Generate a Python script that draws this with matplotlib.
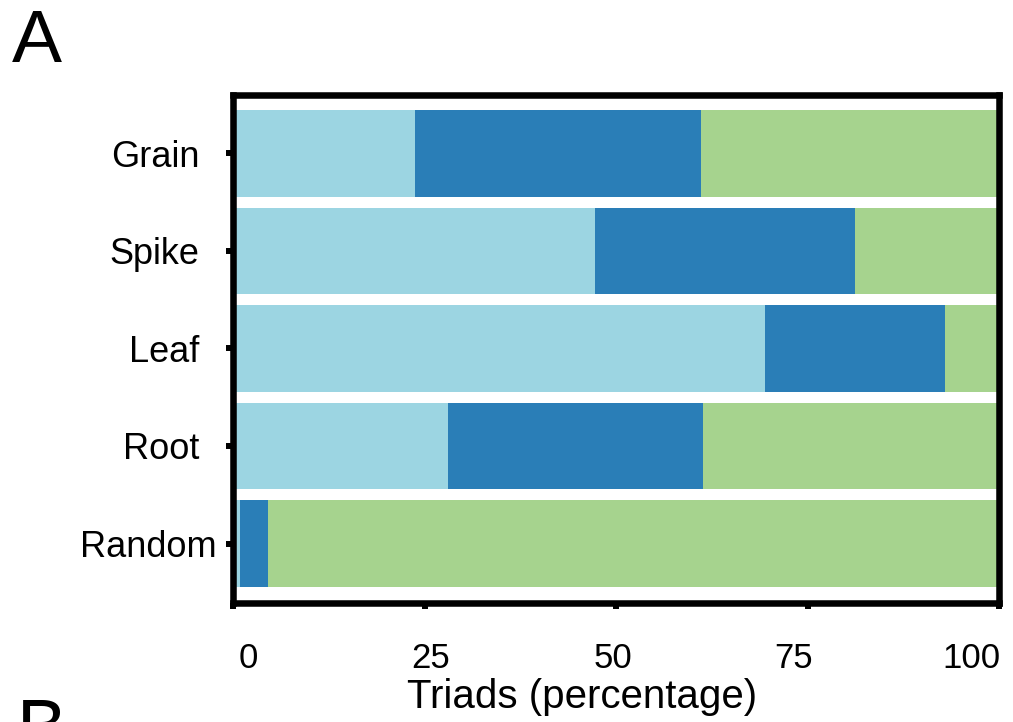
import numpy as np
import matplotlib
matplotlib.use("Agg")
import matplotlib.pyplot as plt
from matplotlib.transforms import ScaledTranslation

plt.rcParams['font.family'] = ['Liberation Sans', 'DejaVu Sans']

categories = ["Grain", "Spike", "Leaf", "Root", "Random"]
light_vals = [23.7, 47.3, 69.5, 28.0, 0.9]
dark_vals = [37.4, 33.9, 23.4, 33.4, 3.6]
green_vals = [38.9, 18.8, 7.1, 38.6, 95.5]
xticks = [0, 25, 50, 75, 100]
xtick_labels = ["0", "25", "50", "75", "100"]

colors = ["#9cd5e2", "#2a7eb7", "#a6d38e"]

fig = plt.figure(figsize=(10.13, 7.22), dpi=100)
ax = fig.add_axes([0.2303, 0.1655, 0.7559, 0.7026])

y = np.arange(len(categories))
left = np.zeros(len(categories))
for vals, c in zip([light_vals, dark_vals, green_vals], colors):
    v = np.array(vals)
    ax.barh(y, v, left=left, height=0.89, color=c, edgecolor='none', zorder=1)
    left = left + v

ax.set_xlim(0, 100)
ax.set_ylim(4.605, -0.597)
ax.set_yticks(y)
ax.set_yticklabels(categories, fontsize=26)
ax.set_xticks(xticks)
ax.set_xticklabels(xtick_labels, fontsize=25)

for s in ax.spines.values():
    s.set_linewidth(4.7)
    s.set_color('black')
    s.set_zorder(3)

ax.tick_params(axis='x', direction='out', length=4.5, width=4.3, pad=24, color='black')
ax.tick_params(axis='y', direction='out', length=4.8, width=4.3, pad=7.2, color='black')

# per-label horizontal offsets (points) to mimic the reference placement
x_off = [10.9, 4.5, -2.2, -10.0, -19.7]
for lbl, dx in zip(ax.get_xticklabels(), x_off):
    lbl.set_transform(lbl.get_transform() + ScaledTranslation(dx / 72, 0, fig.dpi_scale_trans))
y_off = [-12.2, -12.2, -12.2, -12.2, 0.0]
for lbl, dx in zip(ax.get_yticklabels(), y_off):
    lbl.set_transform(lbl.get_transform() + ScaledTranslation(dx / 72, 0, fig.dpi_scale_trans))

ax.set_xlabel("Triads (percentage)", fontsize=29, va='top')
ax.xaxis.set_label_coords(0.456, -0.148)

fig.text(12 / 1013, 1 - 8 / 722, "A", fontsize=54, va='top', ha='left')
fig.text(17 / 1013, 1 - 697 / 722, "B", fontsize=54, va='top', ha='left')

fig.savefig("out.png", dpi=100)
